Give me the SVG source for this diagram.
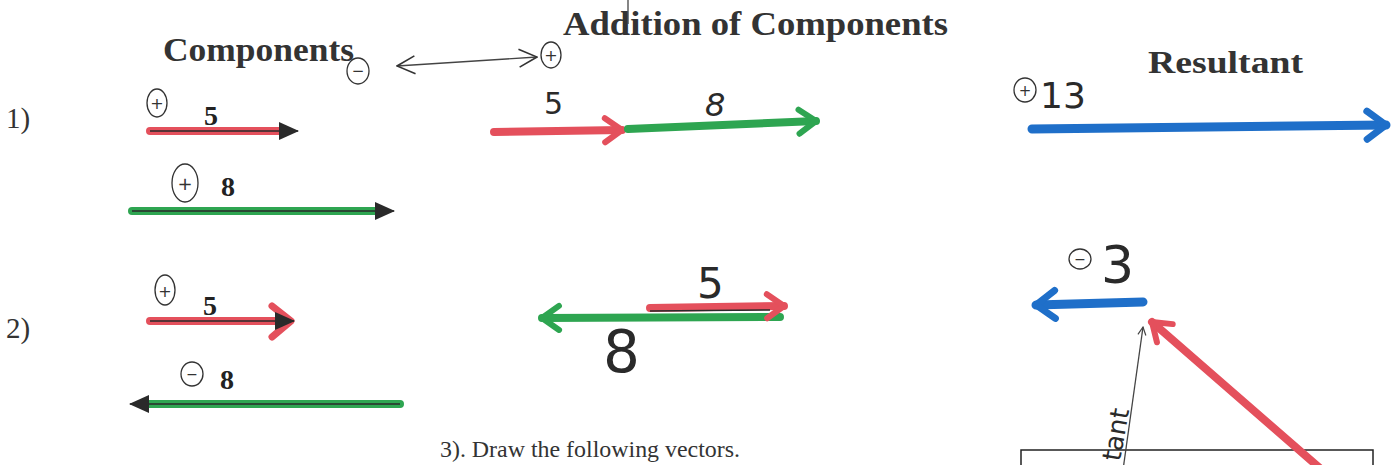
<svg xmlns="http://www.w3.org/2000/svg" width="1393" height="465" viewBox="0 0 1393 465">
<style>
.title{font-family:"Liberation Serif","Times New Roman",serif;font-weight:bold;fill:#333}
.reg{font-family:"Liberation Serif","Times New Roman",serif;fill:#333}
.num{font-family:"Liberation Serif","Times New Roman",serif;font-weight:bold;fill:#222;font-size:28px}
.hand{font-family:"DejaVu Sans","Liberation Sans",sans-serif;fill:#2a2a2a}
.circ{fill:none;stroke:#333;stroke-width:1.3}
.sign{font-family:"DejaVu Sans",sans-serif;fill:#333;text-anchor:middle}
.red{stroke:#e4505c;stroke-width:8;stroke-linecap:round;fill:none}
.green{stroke:#2ea551;stroke-width:8;stroke-linecap:round;fill:none}
.blue{stroke:#1f6fc9;stroke-width:9;stroke-linecap:round;fill:none}
.ink{stroke:#2a2a2a;stroke-width:1.6;fill:none}
.thin{stroke:#444;stroke-width:1.3;fill:none}
</style>
<defs>
<marker id="tri" viewBox="0 0 20 20" refX="19" refY="10" markerWidth="20" markerHeight="20" markerUnits="userSpaceOnUse" orient="auto"><path d="M0,1 L20,10 L0,19 z" fill="#2a2a2a"/></marker>
<marker id="chevR" viewBox="0 0 26 32" refX="21" refY="16" markerWidth="26" markerHeight="32" markerUnits="userSpaceOnUse" orient="auto"><path d="M4,4 L21,16 L4,28" fill="none" stroke="#e4505c" stroke-width="6" stroke-linecap="round" stroke-linejoin="round"/></marker>
<marker id="chevG" viewBox="0 0 26 32" refX="21" refY="16" markerWidth="26" markerHeight="32" markerUnits="userSpaceOnUse" orient="auto"><path d="M4,4 L21,16 L4,28" fill="none" stroke="#2ea551" stroke-width="6" stroke-linecap="round" stroke-linejoin="round"/></marker>
<marker id="chevB" viewBox="0 0 28 36" refX="23" refY="18" markerWidth="28" markerHeight="36" markerUnits="userSpaceOnUse" orient="auto"><path d="M4,4 L23,18 L4,32" fill="none" stroke="#1f6fc9" stroke-width="7" stroke-linecap="round" stroke-linejoin="round"/></marker>
<marker id="open" viewBox="0 0 20 20" refX="19" refY="10" markerWidth="20" markerHeight="20" markerUnits="userSpaceOnUse" orient="auto-start-reverse"><path d="M1,1 L19,10 L1,19" fill="none" stroke="#333" stroke-width="1.6"/></marker>
<marker id="small" viewBox="0 0 10 10" refX="9" refY="5" markerWidth="10" markerHeight="10" markerUnits="userSpaceOnUse" orient="auto"><path d="M1,1 L9,5 L1,9" fill="none" stroke="#444" stroke-width="1.2"/></marker>
</defs>

<g id="headings">
<text class="title" x="163" y="61" font-size="34" textLength="191" lengthAdjust="spacingAndGlyphs">Components</text>
<text class="title" x="563" y="35" font-size="34" textLength="385" lengthAdjust="spacingAndGlyphs">Addition of Components</text>
<text class="title" x="1148" y="73" font-size="31" textLength="155" lengthAdjust="spacingAndGlyphs">Resultant</text>
<text class="reg" x="6" y="128" font-size="29">1)</text>
<text class="reg" x="6" y="338" font-size="29">2)</text>
<text class="reg" x="440" y="457" font-size="24" textLength="300" lengthAdjust="spacingAndGlyphs">3).  Draw the following vectors.</text>
<line class="thin" x1="628" y1="0" x2="628" y2="24"/>
</g>

<g id="sign-key">
<ellipse class="circ" cx="358" cy="71" rx="11" ry="13"/><text class="sign" x="358" y="76" font-size="15">−</text>
<ellipse class="circ" cx="551" cy="55" rx="10" ry="13"/><text class="sign" x="551" y="61" font-size="16">+</text>
</g>

<g id="row1-components">
<ellipse class="circ" cx="157" cy="103" rx="10" ry="14"/><text class="sign" x="157" y="109" font-size="16">+</text>
<text class="num" x="204" y="125">5</text>
<ellipse class="circ" cx="185" cy="183" rx="13" ry="19"/><text class="sign" x="185" y="190" font-size="18">+</text>
<text class="num" x="221" y="196">8</text>
</g>

<g id="row1-addition">
<text class="hand" x="544" y="114" font-size="30">5</text>
<text class="hand" x="705" y="116" font-size="32" font-style="italic">8</text>
</g>

<g id="row1-resultant">
<ellipse class="circ" cx="1025" cy="90" rx="11" ry="12"/><text class="sign" x="1025" y="96" font-size="15">+</text>
<text class="hand" x="1040" y="108" font-size="36">13</text>
</g>

<g id="row2-components">
<ellipse class="circ" cx="165" cy="290" rx="10" ry="15"/><text class="sign" x="165" y="297" font-size="16">+</text>
<text class="num" x="203" y="315">5</text>
<ellipse class="circ" cx="192" cy="374" rx="11" ry="12"/><text class="sign" x="192" y="379" font-size="14">−</text>
<text class="num" x="220" y="389">8</text>
</g>

<g id="row2-addition">
<text class="hand" x="697" y="298" font-size="42">5</text>
<text class="hand" x="603" y="372" font-size="58">8</text>
</g>

<g id="row2-resultant">
<ellipse class="circ" cx="1080" cy="259" rx="11" ry="10"/><text class="sign" x="1080" y="264" font-size="14">−</text>
<text class="hand" x="1101" y="283" font-size="52">3</text>
<text class="hand" x="0" y="0" font-size="26" transform="translate(1120,462) rotate(-80)">tant</text>
<rect x="1021" y="450" width="352" height="30" fill="none" stroke="#222" stroke-width="1.5"/>
</g>

<g id="connectors">
<path d="M397,66 L537,57" class="thin" stroke-width="1.5" marker-start="url(#open)" marker-end="url(#open)"/>
<line class="red" x1="150" y1="131" x2="282" y2="131"/>
<line class="ink" x1="150" y1="131" x2="298" y2="131" marker-end="url(#tri)"/>
<line class="green" x1="132" y1="211" x2="378" y2="211"/>
<line class="ink" x1="132" y1="211" x2="394" y2="211" marker-end="url(#tri)"/>
<path class="red" d="M494,132 L622,130" marker-end="url(#chevR)"/>
<path class="green" d="M628,129 L816,121" marker-end="url(#chevG)"/>
<path class="blue" d="M1032,129 L1386,125" marker-end="url(#chevB)"/>
<line class="red" x1="150" y1="321" x2="282" y2="321"/>
<path d="M272,306 L291,321 L272,337" fill="none" stroke="#e4505c" stroke-width="7" stroke-linecap="round" stroke-linejoin="round"/>
<line class="ink" x1="150" y1="321" x2="294" y2="321" marker-end="url(#tri)"/>
<line class="green" x1="400" y1="404" x2="148" y2="404"/>
<line class="ink" x1="400" y1="404" x2="130" y2="404" marker-end="url(#tri)"/>
<path class="green" d="M780,317 L542,318" marker-end="url(#chevG)"/>
<path class="red" d="M650,308 L784,306" marker-end="url(#chevR)"/>
<line class="ink" stroke-width="1" x1="650" y1="311" x2="770" y2="310"/>
<path class="blue" d="M1143,302 L1036,305" marker-end="url(#chevB)"/>
<path class="red" d="M1322,470 L1152,322" marker-end="url(#chevR)"/>
<line class="thin" x1="1123" y1="470" x2="1143" y2="327" marker-end="url(#small)"/>
</g>
</svg>
